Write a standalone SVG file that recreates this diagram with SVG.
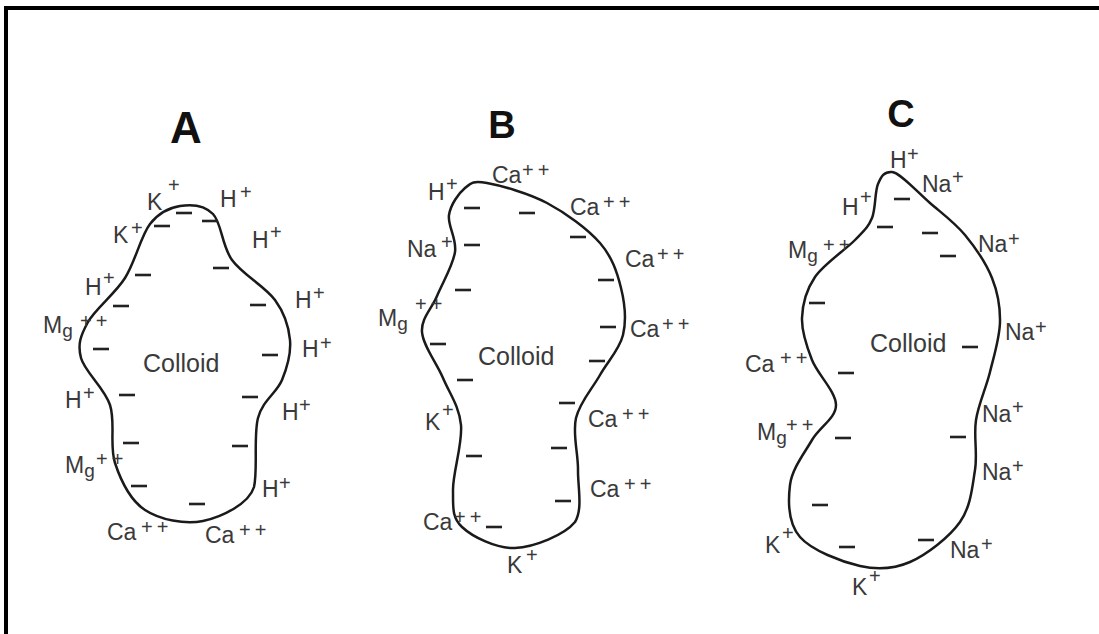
<svg xmlns="http://www.w3.org/2000/svg" xmlns:xlink="http://www.w3.org/1999/xlink" width="1099" height="634" viewBox="0 0 1099 634">
<style>
.outline{fill:none;stroke:#1a1a1a;stroke-width:2.5;stroke-linejoin:round}
.ion{font-family:"Liberation Sans",Arial,sans-serif;font-size:23px;fill:#3a3a3a}
.sup{font-size:20px}
.pp{font-size:20px;letter-spacing:4px}
.sub{font-size:19px}
.col{font-family:"Liberation Sans",Arial,sans-serif;font-size:25px;fill:#3a3a3a}
.title{font-family:"Liberation Sans",Arial,sans-serif;font-weight:bold;fill:#111;text-anchor:middle}
</style>
<defs>
<line id="d" x1="-8" y1="0" x2="8" y2="0" stroke="#222" stroke-width="2.6"/>
</defs>
<rect width="1099" height="634" fill="#fff"/>
<path d="M6 634 V8 H1099" fill="none" stroke="#000" stroke-width="4"/>

<g id="colloidA">
<text class="title" x="186" y="143" font-size="44">A</text>
<path class="outline" d="M180 206 C190.5 204.3 204.3 205 213 214 C221.7 223 221.7 245.7 232 260 C242.3 274.3 265.3 286.7 275 300 C284.7 313.3 288.8 326.7 290 340 C291.2 353.3 287.3 367 282 380 C276.7 393 262.7 400.2 258 418 C253.3 435.8 258 469.8 254 487 C249 504 221.2 517.2 203 521 C184.8 524.8 159.7 519.7 145 510 C130.3 500.3 120.8 480.5 115 463 C109.2 445.5 115.7 422.5 110 405 C104.3 387.5 84.7 371.8 81 358 C77.3 344.2 80.7 335.3 88 322 C95.3 308.7 114.7 294.3 125 278 C135.3 261.7 140.8 236 150 224 C159.2 212 169.5 207.7 180 206 Z"/>
<text class="col" x="143" y="372">Colloid</text>
<use href="#d" x="184" y="213"/><use href="#d" x="210" y="221"/><use href="#d" x="162" y="226"/>
<use href="#d" x="143" y="275"/><use href="#d" x="221" y="268"/><use href="#d" x="121" y="306"/>
<use href="#d" x="258" y="305"/><use href="#d" x="101" y="349"/><use href="#d" x="270" y="355"/>
<use href="#d" x="127" y="395"/><use href="#d" x="250" y="397"/><use href="#d" x="131" y="443"/>
<use href="#d" x="240" y="446"/><use href="#d" x="139" y="486"/><use href="#d" x="197" y="504"/>
<text class="ion" x="147" y="210">K<tspan class="sup" x="168" y="192">+</tspan></text>
<text class="ion" x="220" y="207">H<tspan class="sup" x="240" y="199">+</tspan></text>
<text class="ion" x="113" y="243">K<tspan class="sup" x="131" y="235">+</tspan></text>
<text class="ion" x="252" y="248">H<tspan class="sup" x="270" y="239">+</tspan></text>
<text class="ion" x="85" y="295">H<tspan class="sup" x="103" y="285">+</tspan></text>
<text class="ion" x="295" y="308">H<tspan class="sup" x="313" y="300">+</tspan></text>
<text class="ion" x="43" y="333">M<tspan class="sub" y="337">g</tspan><tspan class="pp" x="80" y="328">++</tspan></text>
<text class="ion" x="302" y="357">H<tspan class="sup" x="320" y="350">+</tspan></text>
<text class="ion" x="65" y="408">H<tspan class="sup" x="83" y="400">+</tspan></text>
<text class="ion" x="282" y="420">H<tspan class="sup" x="299" y="412">+</tspan></text>
<text class="ion" x="65" y="473">M<tspan class="sub" y="477">g</tspan><tspan class="pp" x="96" y="466">++</tspan></text>
<text class="ion" x="262" y="497">H<tspan class="sup" x="279" y="490">+</tspan></text>
<text class="ion" x="107" y="540">Ca<tspan class="pp" x="141" y="534">++</tspan></text>
<text class="ion" x="205" y="543">Ca<tspan class="pp" x="239" y="537">++</tspan></text>
</g>

<g id="colloidB">
<text class="title" x="502" y="138" font-size="38">B</text>
<path class="outline" d="M487 183 C500.7 185.5 528.2 193 547 203 C565.8 213 587.7 228.8 600 243 C612.3 257.2 617.2 272.7 621 288 C624.8 303.3 626.5 320.5 623 335 C619.5 349.5 607.8 361.2 600 375 C592.2 388.8 579.7 402.2 576 418 C572.3 433.8 578.2 452.7 578 470 C577.8 487.3 583 509 575 522 C564.5 535 533.8 547.2 515 548 C496.2 548.8 472.3 536.7 462 527 C451.7 517.3 453.2 507 453 490 C452.8 473 462.7 443.7 461 425 C459.3 406.3 449.5 393.5 443 378 C436.5 362.5 423 345.7 422 332 C421 318.3 431.5 309.3 437 296 C442.5 282.7 453 265.5 455 252 C457 238.5 447.3 225.7 449 215 C450.7 204.3 458.7 193.3 465 188 C471.3 182.7 473.3 180.5 487 183 Z"/>
<text class="col" x="478" y="365">Colloid</text>
<use href="#d" x="472" y="208"/><use href="#d" x="527" y="213"/><use href="#d" x="472" y="245"/>
<use href="#d" x="578" y="237"/><use href="#d" x="606" y="280"/><use href="#d" x="463" y="290"/>
<use href="#d" x="608" y="327"/><use href="#d" x="438" y="344"/><use href="#d" x="597" y="361"/>
<use href="#d" x="465" y="380"/><use href="#d" x="567" y="403"/><use href="#d" x="474" y="456"/>
<use href="#d" x="559" y="448"/><use href="#d" x="563" y="501"/><use href="#d" x="494" y="527"/>
<text class="ion" x="492" y="183">Ca<tspan class="pp" x="522" y="177">++</tspan></text>
<text class="ion" x="428" y="200">H<tspan class="sup" x="446" y="191">+</tspan></text>
<text class="ion" x="570" y="215">Ca<tspan class="pp" x="603" y="209">++</tspan></text>
<text class="ion" x="407" y="257">Na<tspan class="sup" x="441" y="249">+</tspan></text>
<text class="ion" x="625" y="267">Ca<tspan class="pp" x="657" y="261">++</tspan></text>
<text class="ion" x="378" y="326">M<tspan class="sub" y="330">g</tspan><tspan class="pp" x="415" y="311">++</tspan></text>
<text class="ion" x="630" y="337">Ca<tspan class="pp" x="662" y="331">++</tspan></text>
<text class="ion" x="425" y="430">K<tspan class="sup" x="442" y="417">+</tspan></text>
<text class="ion" x="588" y="427">Ca<tspan class="pp" x="622" y="421">++</tspan></text>
<text class="ion" x="590" y="497">Ca<tspan class="pp" x="624" y="491">++</tspan></text>
<text class="ion" x="423" y="530">Ca<tspan class="pp" x="454" y="524">++</tspan></text>
<text class="ion" x="507" y="573">K<tspan class="sup" x="526" y="562">+</tspan></text>
</g>

<g id="colloidC">
<text class="title" x="901" y="127" font-size="38">C</text>
<path class="outline" d="M892 172 C900 172.5 917.8 192.5 930 203 C942.2 213.5 954.7 222.5 965 235 C975.3 247.5 986.2 263.5 992 278 C997.8 292.5 1000.3 306.3 1000 322 C999.7 337.7 994 355.7 990 372 C986 388.3 978.5 403.7 976 420 C973.5 436.3 977.7 453 975 470 C972.3 487 970.8 506.7 960 522 C949.2 537.3 926.7 554.7 910 562 C893.3 569.3 878.3 570.2 860 566 C841.7 561.8 811.7 550.5 800 537 C788.3 523.5 788 501.2 790 485 C792 468.8 804.3 453.3 812 440 C819.7 426.7 836 418.3 836 405 C836 391.7 817.7 374.5 812 360 C806.3 345.5 801.5 331.8 802 318 C802.5 304.2 806.2 290 815 277 C823.8 264 845.5 249.8 855 240 C864.5 230.2 868.2 227.3 872 218 C875.8 208.7 874.7 191.7 878 184 C881.3 176.3 884 171.5 892 172 Z"/>
<text class="col" x="870" y="352">Colloid</text>
<use href="#d" x="902" y="199"/><use href="#d" x="885" y="227"/><use href="#d" x="930" y="233"/>
<use href="#d" x="948" y="256"/><use href="#d" x="817" y="303"/><use href="#d" x="970" y="347"/>
<use href="#d" x="846" y="373"/><use href="#d" x="843" y="438"/><use href="#d" x="958" y="437"/>
<use href="#d" x="820" y="505"/><use href="#d" x="847" y="547"/><use href="#d" x="926" y="540"/>
<text class="ion" x="890" y="168">H<tspan class="sup" x="907" y="161">+</tspan></text>
<text class="ion" x="922" y="192">Na<tspan class="sup" x="952" y="184">+</tspan></text>
<text class="ion" x="842" y="215">H<tspan class="sup" x="860" y="204">+</tspan></text>
<text class="ion" x="788" y="258">M<tspan class="sub" y="262">g</tspan><tspan class="pp" x="823" y="252">++</tspan></text>
<text class="ion" x="978" y="252">Na<tspan class="sup" x="1008" y="246">+</tspan></text>
<text class="ion" x="1005" y="340">Na<tspan class="sup" x="1035" y="334">+</tspan></text>
<text class="ion" x="745" y="372">Ca<tspan class="pp" x="780" y="365">++</tspan></text>
<text class="ion" x="757" y="440">M<tspan class="sub" y="444">g</tspan><tspan class="pp" x="786" y="432">++</tspan></text>
<text class="ion" x="982" y="422">Na<tspan class="sup" x="1012" y="414">+</tspan></text>
<text class="ion" x="982" y="480">Na<tspan class="sup" x="1012" y="473">+</tspan></text>
<text class="ion" x="765" y="553">K<tspan class="sup" x="782" y="540">+</tspan></text>
<text class="ion" x="950" y="558">Na<tspan class="sup" x="981" y="551">+</tspan></text>
<text class="ion" x="852" y="595">K<tspan class="sup" x="869" y="583">+</tspan></text>
</g>

<g id="connectors"/>
</svg>
